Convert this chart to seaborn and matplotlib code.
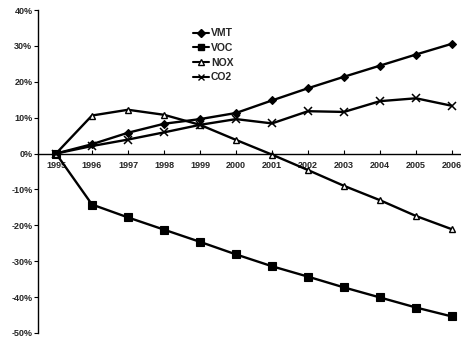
import matplotlib
matplotlib.use("Agg")
import matplotlib.pyplot as plt
import seaborn as sns
import pandas as pd
import numpy as np
from matplotlib.lines import Line2D

years = ["1995", "1996", "1997", "1998", "1999", "2000", "2001", "2002", "2003", "2004", "2005", "2006"]
vmt = [0.0, 2.6, 5.8, 8.3, 9.6, 11.3, 14.8, 18.2, 21.4, 24.5, 27.6, 30.6]
voc = [0.0, -14.2, -17.8, -21.2, -24.6, -28.1, -31.4, -34.3, -37.3, -40.1, -42.9, -45.4]
nox = [0.0, 10.6, 12.2, 10.8, 8.0, 3.8, -0.3, -4.6, -9.0, -13.0, -17.4, -21.1]
co2 = [0.0, 2.1, 3.9, 5.9, 8.0, 9.6, 8.4, 11.8, 11.6, 14.6, 15.4, 13.3]
series_names = ["VMT", "VOC", "NOX", "CO2"]
y_ticks = [40, 30, 20, 10, 0, -10, -20, -30, -40, -50]

sns.set_style("white")
plt.rcParams["font.family"] = ["Liberation Sans", "DejaVu Sans"]

fig = plt.figure(figsize=(4.61, 3.41), dpi=100)
ax = fig.add_axes([38 / 461, 8 / 341, 432 / 461, 323 / 341])

markers = {"VMT": "D", "VOC": "s", "NOX": "^", "CO2": "x"}
sizes = {"VMT": 4.5, "VOC": 5.5, "NOX": 4.5, "CO2": 5.5}

for name, vals in zip(series_names, [vmt, voc, nox, co2]):
    d = pd.DataFrame({"idx": np.arange(len(vals)), "value": vals})
    kw = dict(color="black", linewidth=1.7, marker=markers[name], markersize=sizes[name],
              markeredgecolor="black")
    if name == "NOX":
        kw.update(markerfacecolor="white", markeredgewidth=1.0)
    elif name == "CO2":
        kw.update(markeredgewidth=1.1)
    else:
        kw.update(markerfacecolor="black", markeredgewidth=0.8)
    sns.lineplot(data=d, x="idx", y="value", ax=ax, legend=False, **kw)

ax.set_xlim(-0.5, 11.5)
ax.set_ylim(-50, 40)
ax.set_xticks(range(len(years)))
ax.set_xticklabels(years)
ax.set_yticks(y_ticks)
ax.set_yticklabels([f"{t}%" for t in y_ticks])
ax.set_xlabel("")
ax.set_ylabel("")

for s in ["top", "right"]:
    ax.spines[s].set_visible(False)
ax.spines["bottom"].set_position(("data", 0))
ax.spines["left"].set_color("black")
ax.spines["bottom"].set_color("black")
ax.spines["left"].set_linewidth(1.0)
ax.spines["bottom"].set_linewidth(1.0)

ax.tick_params(axis="y", direction="out", length=3, width=0.8, color="black",
               labelsize=6.5, pad=1, left=True)
ax.tick_params(axis="x", direction="in", length=3, width=0.8, color="black",
               labelsize=6.5, pad=5, bottom=True)
for lab in ax.get_xticklabels() + ax.get_yticklabels():
    lab.set_fontweight("bold")

handles = []
for name in series_names:
    h = Line2D([0], [0], color="black", lw=1.5, marker=markers[name],
               markersize=sizes[name] - 0.5,
               markerfacecolor="white" if name == "NOX" else "black",
               markeredgecolor="black")
    handles.append(h)
leg = ax.legend(handles, series_names, loc="upper left",
                bbox_to_anchor=(188 / 461, 318 / 341), bbox_transform=fig.transFigure,
                frameon=False, fontsize=7.5, handlelength=1.5, handletextpad=0.2,
                labelspacing=0.45, borderpad=0)
for t in leg.get_texts():
    t.set_fontweight("bold")

fig.savefig("out.png", dpi=100)
